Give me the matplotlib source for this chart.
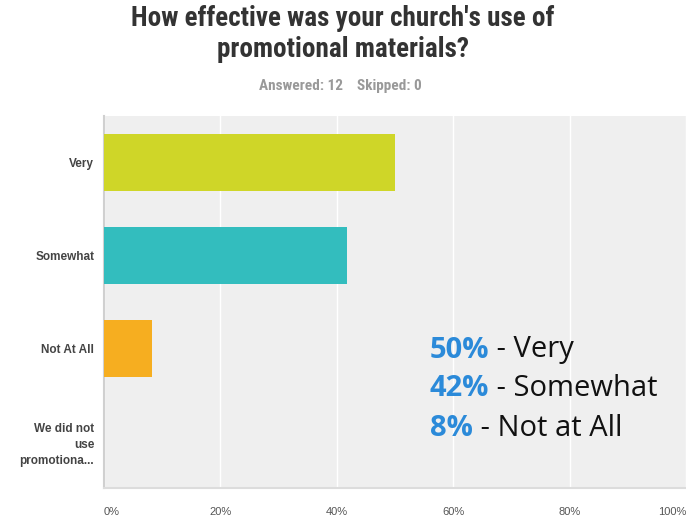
import matplotlib
matplotlib.use("Agg")
import matplotlib.pyplot as plt
from matplotlib import font_manager as fm

# data
categories = ["Very", "Somewhat", "Not At All", "We did not\nuse\npromotiona..."]
values = [50.0, 41.67, 8.33, 0.0]
colors = ["#cfd628", "#33bdbe", "#f6ae20", "#8a8a8a"]
xticks = [0, 20, 40, 60, 80, 100]
xticklabels = ["0%", "20%", "40%", "60%", "80%", "100%"]
summary_pct = ["50%", "42%", "8%"]
summary_txt = [" - Very", " - Somewhat", " - Not at All"]

# pick a condensed bold font file if there is one
cond = None
for f in fm.fontManager.ttflist:
    n = f.fname.lower()
    if ("narrow" in n or "condensed" in n) and "bold" in n and "oblique" not in n and "italic" not in n:
        cond = f.fname
        if "liberation" in n:
            break

def title_font(size):
    if cond:
        return fm.FontProperties(fname=cond, size=size)
    return fm.FontProperties(family="Liberation Sans", weight="bold", size=size)

fig = plt.figure(figsize=(6.86, 5.16), dpi=100)
ax = fig.add_axes([104/686, 1 - 488/516, 582/686, 372/516])

y = list(range(len(categories)))
ax.barh(y, values, height=0.62, color=colors, zorder=3)
ax.set_ylim(len(categories) - 0.5, -0.5)
ax.set_xlim(0, 100)
ax.set_facecolor("#efefef")
ax.set_xticks(xticks)
ax.set_xticklabels(xticklabels, fontsize=8, color="#555555", family="Liberation Sans")
labs = ax.get_xticklabels()
labs[0].set_ha("left")
labs[-1].set_ha("right")
ax.set_yticks(y)
ax.set_yticklabels(categories, fontsize=8.5, color="#444444", fontweight="bold",
                   family="Liberation Sans", linespacing=1.45)
ax.tick_params(length=0)
ax.tick_params(axis="y", pad=7)
ax.tick_params(axis="x", pad=14)
ax.grid(axis="x", color="white", linewidth=1, zorder=1)
for s in ["top", "right"]:
    ax.spines[s].set_visible(False)
ax.spines["left"].set_color("#d0d0d0")
ax.spines["bottom"].set_color("#dcdcdc")
ax.spines["left"].set_linewidth(1.5)
ax.spines["bottom"].set_linewidth(1.5)

fig.text(343/686, 1 - 34/516, "How effective was your church's use of\npromotional materials?",
         ha="center", va="center", fontproperties=title_font(19.5), color="#333333",
         linespacing=1.15)
fig.text(340/686, 1 - 86/516, "Answered: 12    Skipped: 0", ha="center", va="center",
         fontproperties=title_font(11), color="#999999")

# summary text
ys = [350, 389, 428]
for p, t, yy in zip(summary_pct, summary_txt, ys):
    t1 = fig.text(430/686, 1 - yy/516, p, ha="left", va="center", fontsize=21,
                  fontweight="bold", color="#2b8ad9", family="Open Sans")
    ax.annotate(t, xy=(1, 0), xycoords=t1, va="bottom", ha="left", fontsize=21,
                color="#111111", family="Open Sans")

fig.savefig("out.png", dpi=100)
